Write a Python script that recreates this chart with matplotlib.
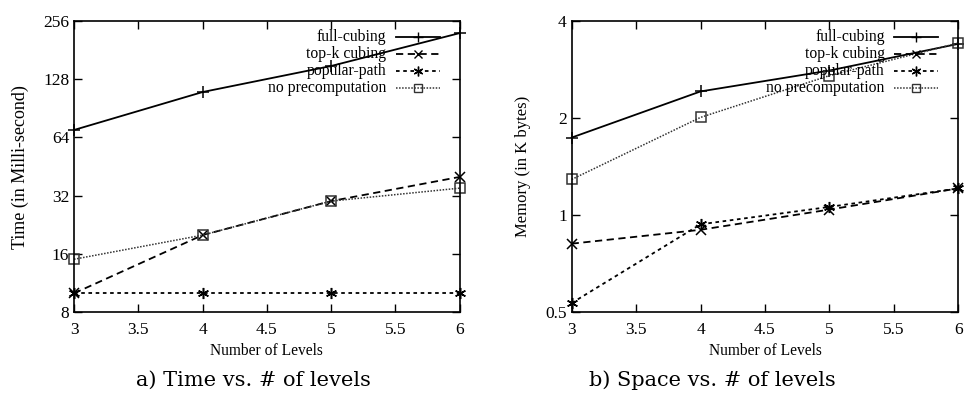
import numpy as np
import matplotlib
matplotlib.use('Agg')
import matplotlib.pyplot as plt
from matplotlib.lines import Line2D

plt.rcParams['font.family'] = ['Liberation Serif', 'DejaVu Serif']

levels = [3, 4, 5, 6]
names = ['full-cubing', 'top-k cubing', 'popular-path', 'no precomputation']

# time (ms)
time_full = [70, 110, 150, 222]
time_topk = [10, 20, 30, 40]
time_pop = [10, 10, 10, 10]
time_noprec = [15, 20, 30, 35]

# memory (K bytes)
mem_full = [1.74, 2.42, 2.81, 3.40]
mem_topk = [0.815, 0.90, 1.04, 1.21]
mem_pop = [0.533, 0.936, 1.06, 1.21]
mem_noprec = [1.29, 2.01, 2.71, 3.42]

styles = [dict(ls='-', marker='+', ms=8, color='black', lw=1.3),
          dict(ls=(0, (4, 2.5)), marker='x', ms=7, color='black', lw=1.3),
          dict(ls=(0, (2, 2)), marker=(6, 2, 0), ms=8, color='black', lw=1.3),
          dict(ls=(0, (1, 1)), marker='s', ms=7, color='#333333', lw=1.1,
               mfc='none')]


def draw(ax, series, yticks, ylabel, ylsize):
    for s, st in zip(series, styles):
        ax.plot(levels, s, mew=1.1, clip_on=False, **st)
    ax.set_yscale('log', base=2)
    ax.set_ylim(yticks[0], yticks[-1])
    ax.set_yticks(yticks)
    ax.set_yticklabels([('%g' % t) for t in yticks])
    ax.minorticks_off()
    ax.set_xlim(3, 6)
    ax.set_xticks([3, 3.5, 4, 4.5, 5, 5.5, 6])
    ax.set_xticklabels(['3', '3.5', '4', '4.5', '5', '5.5', '6'])
    ax.tick_params(direction='in', top=True, right=True, length=6,
                   labelsize=12.5, width=1)
    ax.tick_params(axis='x', pad=7)
    for sp in ax.spines.values():
        sp.set_linewidth(1.2)
    ax.set_xlabel('Number of Levels', fontsize=11.2, labelpad=4)
    ax.set_ylabel(ylabel, fontsize=ylsize, labelpad=10)
    # gnuplot-like key, text right-aligned
    for i, (n, st) in enumerate(zip(names, styles)):
        y = 0.945 - i * 0.058
        ax.text(0.81, y, n, transform=ax.transAxes, ha='right',
                va='center', fontsize=11.3)
        ax.add_line(Line2D([0.835, 0.948], [y, y], transform=ax.transAxes,
                           ls=st['ls'], color=st['color'], lw=st['lw']))
        ax.add_line(Line2D([0.891], [y], transform=ax.transAxes, ls='none',
                           marker=st['marker'], ms=st['ms'] - 1,
                           color=st['color'], mfc=st.get('mfc', st['color']),
                           mew=1.0))


fig = plt.figure(figsize=(9.64, 3.99), dpi=100)
ax1 = fig.add_axes([0.0768, 0.218, 0.400, 0.729])
ax2 = fig.add_axes([0.593, 0.218, 0.401, 0.729])

draw(ax1, [time_full, time_topk, time_pop, time_noprec],
     [8, 16, 32, 64, 128, 256], 'Time (in Milli-second)', 13)
draw(ax2, [mem_full, mem_topk, mem_pop, mem_noprec],
     [0.5, 1, 2, 4], 'Memory (in K bytes)', 12)

fig.text(0.263, 0.048, 'a) Time vs. # of levels', ha='center', va='center',
         fontsize=15, family='DejaVu Serif')
fig.text(0.739, 0.048, 'b) Space vs. # of levels', ha='center', va='center',
         fontsize=15, family='DejaVu Serif')

fig.savefig('out.png', dpi=100)
